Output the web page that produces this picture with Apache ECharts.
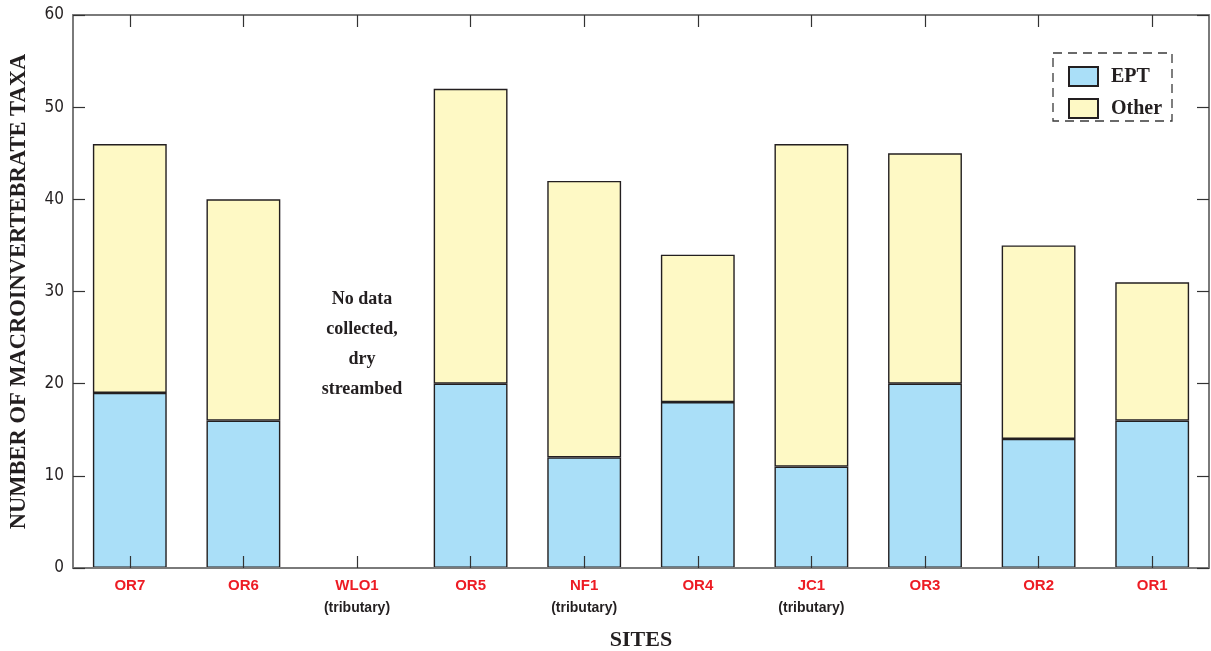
<!DOCTYPE html>
<html><head><meta charset="utf-8">
<script src="https://cdn.jsdelivr.net/npm/echarts@6/dist/echarts.min.js"></script>
<style>html,body{margin:0;padding:0;background:#fff}#c{width:1211px;height:651px}</style>
</head><body><div id="c"></div>
<script>
const sites = ['OR7','OR6','WLO1','OR5','NF1','OR4','JC1','OR3','OR2','OR1'];
const tributary = ['WLO1','NF1','JC1'];
const eptValues = [19,16,null,20,12,18,11,20,14,16];
const totalValues = [46,40,null,52,42,34,46,45,35,31];
const otherValues = totalValues.map((t,i)=> t==null ? null : t - eptValues[i]);
const yTicks = [0,10,20,30,40,50,60];
const noDataText = 'No data\ncollected,\ndry\nstreambed';

const axisCol = '#7a7a7a';
const tickCol = '#333333';
const chart = echarts.init(document.getElementById('c'));
chart.setOption({
  animation:false,
  grid:{left:73,right:2,top:15,bottom:83,containLabel:false,outerBoundsMode:'none'},
  legend:{
    orient:'vertical', left:1063, top:61, itemWidth:29, itemHeight:19, itemGap:11,
    icon:'rect',
    textStyle:{fontFamily:'Liberation Serif',fontWeight:'bold',fontSize:20,color:'#231f20',padding:[0,0,0,8]},
    data:['EPT','Other']
  },
  graphic:[{type:'rect',shape:{x:1053,y:53,width:119,height:68},
    style:{fill:'none',stroke:'#3a3a3a',lineWidth:1.3,lineDash:[9,6]}}],
  xAxis:[{
    type:'category', data:sites, position:'bottom', z:10,
    axisLine:{onZero:false,lineStyle:{color:axisCol,width:2}},
    axisTick:{show:true,inside:true,alignWithLabel:true,length:12,lineStyle:{color:tickCol,width:1.2}},
    axisLabel:{margin:7,interval:0,
      formatter:v=> tributary.includes(v) ? '{a|'+v+'}\n{b|(tributary)}' : '{a|'+v+'}',
      rich:{a:{fontFamily:'Liberation Sans',fontWeight:'bold',fontSize:15,color:'#ed1c24',lineHeight:22},
            b:{fontFamily:'Liberation Sans',fontWeight:'bold',fontSize:14,color:'#231f20',lineHeight:22}}},
    name:'SITES', nameLocation:'middle', nameGap:61,
    nameTextStyle:{fontFamily:'Liberation Serif',fontWeight:'bold',fontSize:22,color:'#231f20'}
  },{
    type:'category', data:sites, position:'top', z:10,
    axisLine:{onZero:false,lineStyle:{color:axisCol,width:2}},
    axisTick:{show:true,inside:true,alignWithLabel:true,length:12,lineStyle:{color:tickCol,width:1.2}},
    axisLabel:{show:false}
  }],
  yAxis:[{
    type:'value', min:0, max:60, interval:10, position:'left', z:10,
    axisLine:{show:true,onZero:false,lineStyle:{color:axisCol,width:2}},
    axisTick:{show:true,inside:true,length:12,lineStyle:{color:tickCol,width:1.2}},
    splitLine:{show:false},
    axisLabel:{margin:9,fontFamily:'Liberation Sans Narrow, DejaVu Sans Condensed',fontSize:17,color:'#231f20',
      formatter:v=> yTicks.includes(v)? String(v):''},
    name:'NUMBER OF MACROINVERTEBRATE TAXA', nameLocation:'middle', nameGap:42,
    nameTextStyle:{fontFamily:'Liberation Serif',fontWeight:'bold',fontSize:22.5,color:'#231f20'}
  },{
    type:'value', min:0, max:60, interval:10, position:'right', z:10,
    axisLine:{show:true,onZero:false,lineStyle:{color:axisCol,width:2}},
    axisTick:{show:true,inside:true,length:12,lineStyle:{color:tickCol,width:1.2}},
    splitLine:{show:false}, axisLabel:{show:false}
  }],
  series:[{
    name:'EPT', type:'bar', stack:'t', data:eptValues, barWidth:'65%', z:1,
    itemStyle:{color:'#aadff8',borderColor:'#231f20',borderWidth:1.4},
    markPoint:{symbol:'rect',symbolSize:0,
      data:[{coord:['WLO1',24.3]}],
      label:{show:true,position:'inside',formatter:noDataText,offset:[5,0],
        fontFamily:'Liberation Serif',fontWeight:'bold',fontSize:18,lineHeight:30,color:'#231f20',align:'center'}}
  },{
    name:'Other', type:'bar', stack:'t', data:otherValues, barWidth:'65%', z:1,
    itemStyle:{color:'#fef9c5',borderColor:'#231f20',borderWidth:1.4}
  }]
});
</script></body></html>
